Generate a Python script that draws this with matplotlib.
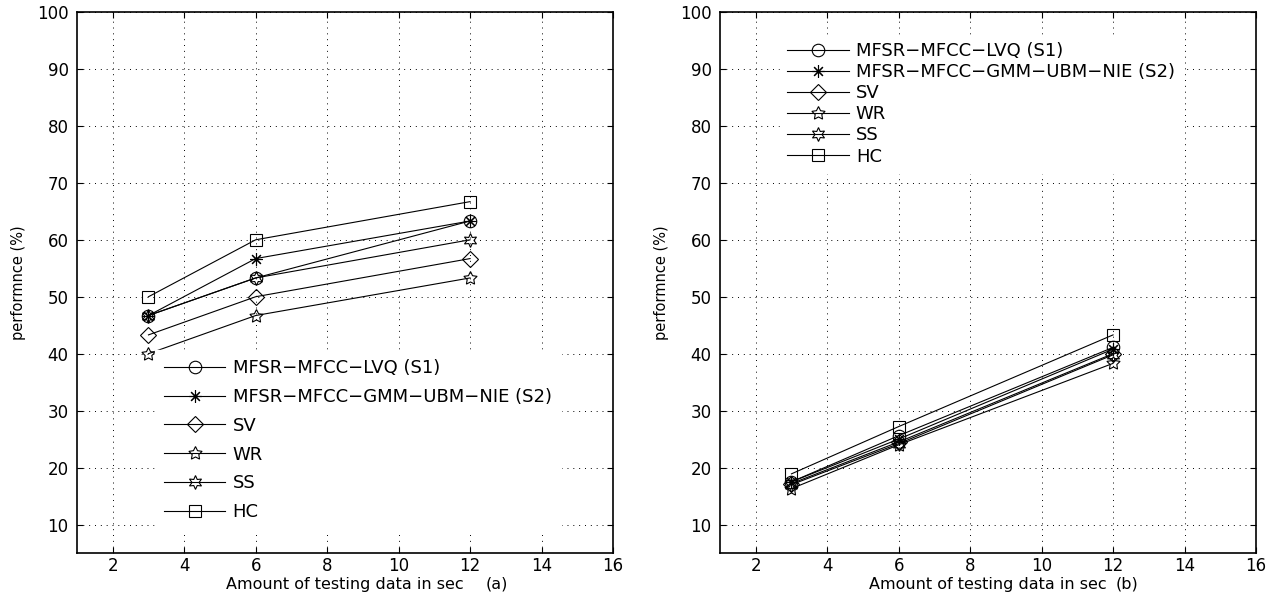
import matplotlib
matplotlib.use("Agg")
import matplotlib.pyplot as plt
import numpy as np

plt.rcParams['font.family'] = ['DejaVu Sans']

# testing data length (sec)
secs = [3, 6, 12]

labels = ["MFSR\u2212MFCC\u2212LVQ (S1)", "MFSR\u2212MFCC\u2212GMM\u2212UBM\u2212NIE (S2)",
          "SV", "WR", "SS", "HC"]

# (a) performance (%)
a_s1 = [46.7, 53.3, 63.3]
a_s2 = [46.7, 56.7, 63.3]
a_sv = [43.3, 50.0, 56.7]
a_wr = [40.0, 46.7, 53.3]
a_ss = [46.7, 53.3, 60.0]
a_hc = [50.0, 60.0, 66.7]

# (b) performance (%)
b_s1 = [17.5, 25.6, 41.1]
b_s2 = [17.5, 25.0, 40.8]
b_sv = [17.2, 24.5, 40.0]
b_wr = [16.3, 24.0, 38.3]
b_ss = [17.0, 24.2, 39.8]
b_hc = [18.9, 27.2, 43.3]

markers = ['o', (8, 2, 0), 'D', (5, 1, 0), (6, 1, 0), 's']
msizes = [9, 9, 8, 10, 10, 9]

fig = plt.figure(figsize=(12.85, 5.98), dpi=100)
W, H = 1285.0, 598.0
ax1 = fig.add_axes([77 / W, 1 - 553 / H, 536 / W, 541 / H])
ax2 = fig.add_axes([720 / W, 1 - 553 / H, 536 / W, 541 / H])


def graph(ax, series):
    for vals, m, ms, lab in zip(series, markers, msizes, labels):
        ax.plot(secs, vals, color='black', lw=0.8, marker=m, ms=ms,
                mfc='none', mec='black', mew=0.8, label=lab)
    ax.set_xlim(1, 16)
    ax.set_ylim(5, 100)
    ax.set_xticks(np.arange(2, 17, 2))
    ax.set_yticks(np.arange(10, 101, 10))
    ax.grid(True, color='black', linestyle=(0, (1, 5)), lw=0.7)
    ax.tick_params(direction='in', length=4, width=0.8, top=True, right=True,
                   labelsize=12)
    ax.tick_params(axis='x', pad=3)
    ax.tick_params(axis='y', pad=6)
    for sp in ax.spines.values():
        sp.set_linewidth(1.2)
    ax.set_xlabel("Amount of testing data in sec", fontsize=11.5, labelpad=1)
    ax.set_ylabel("performnce (%)", fontsize=10.5, labelpad=8)


graph(ax1, [a_s1, a_s2, a_sv, a_wr, a_ss, a_hc])
graph(ax2, [b_s1, b_s2, b_sv, b_wr, b_ss, b_hc])

fig.text(497 / W, 1 - 584 / H, "(a)", fontsize=11.5, ha='center', va='center')
fig.text(1127 / W, 1 - 584 / H, "(b)", fontsize=11.5, ha='center', va='center')

leg1 = ax1.legend(loc='upper left', bbox_to_anchor=(155 / W, 1 - 350 / H),
                  bbox_transform=fig.transFigure, borderaxespad=0, borderpad=0.5,
                  fontsize=13, handlelength=3.4, handletextpad=0.4,
                  labelspacing=0.6, fancybox=False, framealpha=1,
                  edgecolor='white')
leg2 = ax2.legend(loc='upper left', bbox_to_anchor=(780 / W, 1 - 35 / H),
                  bbox_transform=fig.transFigure, borderaxespad=0, borderpad=0.4,
                  fontsize=13, handlelength=3.4, handletextpad=0.4,
                  labelspacing=0.17, fancybox=False, framealpha=1,
                  edgecolor='white')

fig.savefig("out.png", dpi=100)
